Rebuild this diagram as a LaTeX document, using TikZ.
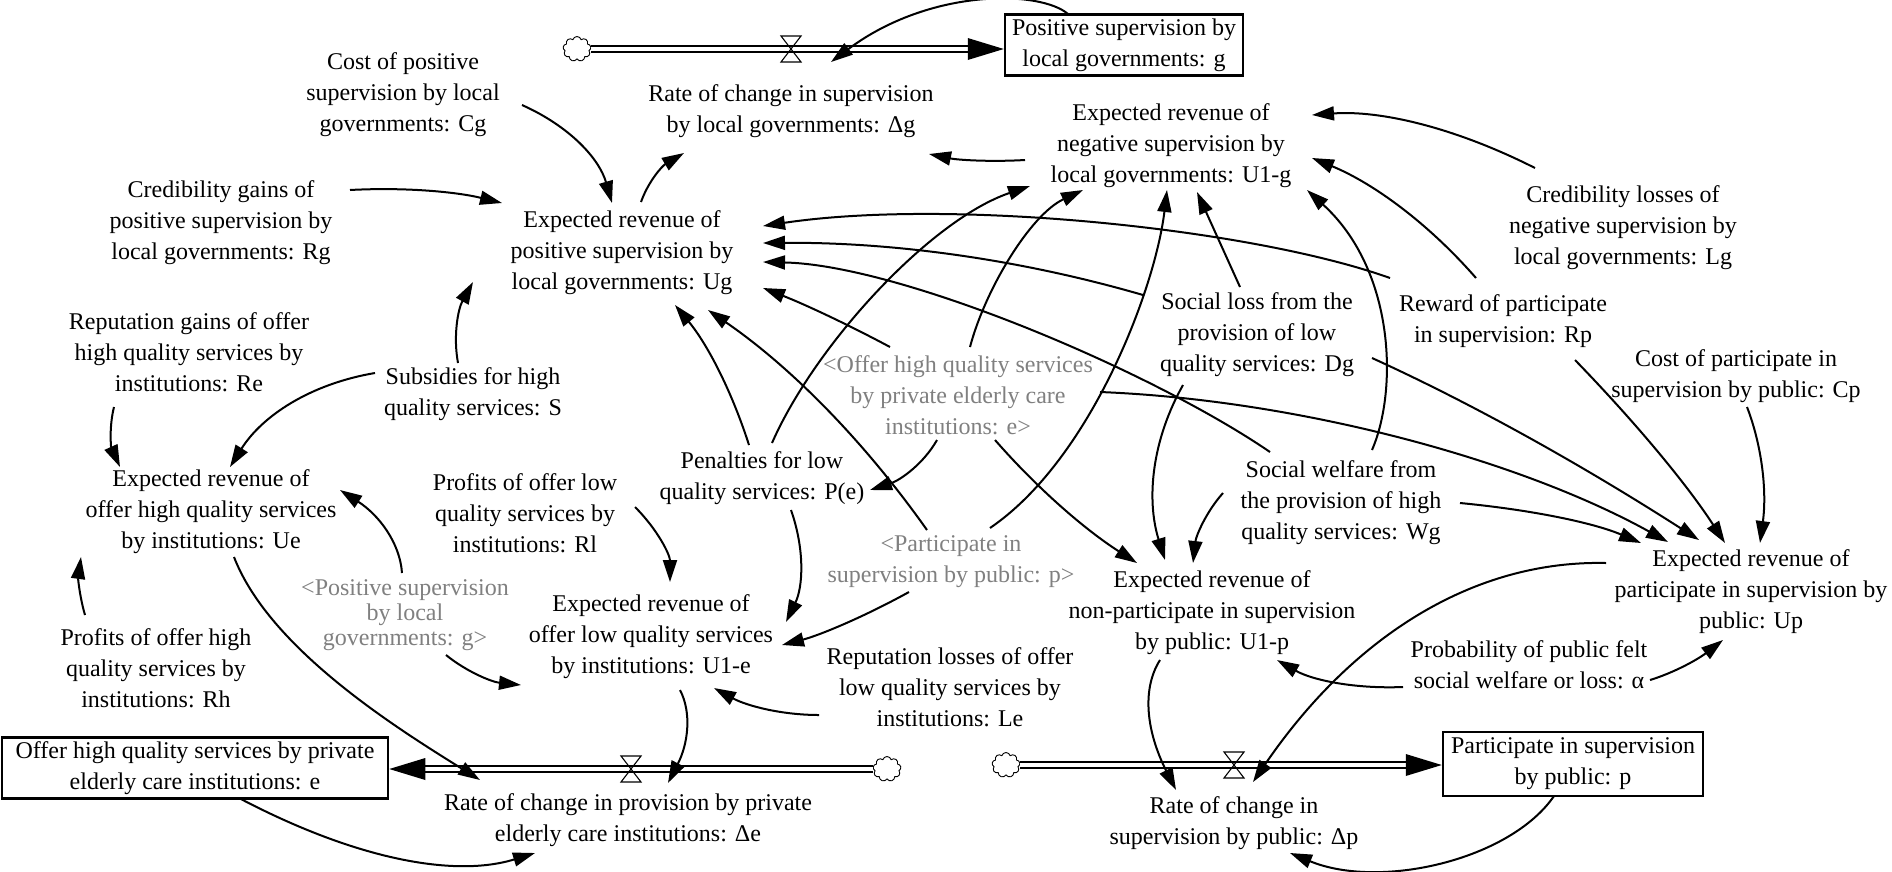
\documentclass[tikz,border=0pt]{standalone}
\usepackage{fontspec}
\setmainfont{Liberation Serif}
\usetikzlibrary{arrows.meta,shapes.symbols}
\definecolor{shadowgray}{RGB}{128,128,128}
\newcommand{\dfont}{\fontsize{24}{31}\selectfont}
\newcommand{\dfonttight}{\fontsize{24}{25}\selectfont}
\newcommand{\valvedraw}[1]{\draw[valvestyle] ([shift={(-10,-13)}]#1) -- ([shift={(10,-13)}]#1) -- ([shift={(-10,13)}]#1) -- ([shift={(10,13)}]#1) -- cycle;}
\begin{document}
\begin{tikzpicture}[x=1pt,y=-1pt,
  var/.style={align=center,inner sep=0pt,font=\dfont},
  shadowvar/.style={var,text=shadowgray},
  stockbox/.style={draw,line width=2.5pt,align=center,inner sep=0pt,font=\dfont},
  conn/.style={line width=2pt,-{Triangle[length=22pt,width=14pt]}},
  pipe/.style={double,line width=1.8pt,double distance=4pt},
  cloudsrc/.style={cloud,draw,cloud puffs=9,aspect=1.15,minimum width=28pt,minimum height=25pt,inner sep=0pt,line width=0.9pt},
  valvestyle/.style={line width=1.1pt}
]
\fill[white] (0,0) rectangle (1892,871);
\useasboundingbox (0,0) rectangle (1892,871);

% ---------- variables ----------
\node[var] (Cg) at (403,95) {Cost of positive\\supervision by local\\governments: Cg};
\node[var] (Rg) at (221,223) {Credibility gains of\\positive supervision by\\local governments: Rg};
\node[var] (Ug) at (622,253) {Expected revenue of\\positive supervision by\\local governments: Ug};
\node[var] (dg) at (791,111) {Rate of change in supervision\\by local governments: Δg};
\node[stockbox,minimum width=238pt,minimum height=61pt] (gbox) at (1124,45) {Positive supervision by\\local governments: g};
\node[var] (U1g) at (1171,146) {Expected revenue of\\negative supervision by\\local governments: U1-g};
\node[var] (Lg) at (1623,228) {Credibility losses of\\negative supervision by\\local governments: Lg};
\node[var] (Re) at (189,352) {Reputation gains of offer\\high quality services by\\institutions: Re};
\node[var] (S) at (473,394) {Subsidies for high\\quality services: S};
\node[var] (Dg) at (1257,335) {Social loss from the\\provision of low\\quality services: Dg};
\node[var] (Rp) at (1503,321) {Reward of participate\\in supervision: Rp};
\node[var] (Cp) at (1736,376) {Cost of participate in\\supervision by public: Cp};
\node[shadowvar] (es) at (958,395) {<Offer high quality services\\by private elderly care\\institutions: e>};
\node[var] (Ue) at (211,512) {Expected revenue of\\offer high quality services\\by institutions: Ue};
\node[var] (Rl) at (525,513) {Profits of offer low\\quality services by\\institutions: Rl};
\node[var] (Pe) at (762,478) {Penalties for low\\quality services: P(e)};
\node[var] (Wg) at (1341,503) {Social welfare from\\the provision of high\\quality services: Wg};
\node[shadowvar] (ps) at (951,562) {<Participate in\\supervision by public: p>};
\node[var] (U1p) at (1212,613) {Expected revenue of\\non-participate in supervision\\by public: U1-p};
\node[var] (Up) at (1751,592) {Expected revenue of\\participate in supervision by\\public: Up};
\node[var] (alpha) at (1529,665) {Probability of public felt\\social welfare or loss: α};
\node[shadowvar,font=\dfonttight] (gs) at (405,615) {<Positive supervision\\by local\\governments: g>};
\node[var] (Rh) at (156,668) {Profits of offer high\\quality services by\\institutions: Rh};
\node[var] (U1e) at (651,637) {Expected revenue of\\offer low quality services\\by institutions: U1-e};
\node[var] (Le) at (950,687) {Reputation losses of offer\\low quality services by\\institutions: Le};
\node[stockbox,minimum width=386pt,minimum height=61pt] (ebox) at (195,768) {Offer high quality services by private\\elderly care institutions: e};
\node[var] (de) at (628,820) {Rate of change in provision by private\\elderly care institutions: Δe};
\node[stockbox,minimum width=260pt,minimum height=64pt] (pbox) at (1573,764) {Participate in supervision\\by public: p};
\node[var] (dp) at (1234,823) {Rate of change in\\supervision by public: Δp};

% ---------- flows ----------
\node[cloudsrc] (c1) at (577,49) {};
\node[cloudsrc] (c2) at (887,769) {};
\node[cloudsrc] (c3) at (1006,765) {};
\coordinate (t1) at (c1.east -| gbox.west);
\coordinate (t2) at (c2.west -| ebox.east);
\coordinate (t3) at (c3.east -| pbox.west);
\draw[pipe] (c1.east) -- ([xshift=-34pt]t1);
\fill (t1) -- ++(-36,-11) -- ++(0,22) -- cycle;
\draw[pipe] (c2.west) -- ([xshift=34pt]t2);
\fill (t2) -- ++(36,-11) -- ++(0,22) -- cycle;
\draw[pipe] (c3.east) -- ([xshift=-34pt]t3);
\fill (t3) -- ++(-36,-11) -- ++(0,22) -- cycle;
\coordinate (v1) at (791,49);
\coordinate (v2) at (631,769);
\coordinate (v3) at (1234,765);
\valvedraw{v1}
\valvedraw{v2}
\valvedraw{v3}

% ---------- connectors ----------
\draw[conn] ([shift={(119,10)}]Cg.center) .. controls (569,126) and (599,158) .. ([shift={(-10,-50)}]Ug.center);
\draw[conn] ([shift={(129,-33)}]Rg.center) .. controls (406,187) and (457,192) .. ([shift={(-120,-50)}]Ug.center);
\draw[conn] ([shift={(19,-51)}]Ug.center) .. controls (648,182) and (662,166) .. ([shift={(-107,42)}]dg.center);
\draw[conn] ([shift={(-56,-31)}]gbox.center) .. controls (1040,-10) and (930,-12) .. ([shift={(40,-49)}]dg.center);
\draw[conn] ([shift={(-146,14)}]U1g.center) .. controls (990,162) and (958,160) .. ([shift={(138,43)}]dg.center);
\draw[conn] ([shift={(-88,-60)}]Lg.center) .. controls (1456,128) and (1381,110) .. ([shift={(141,-31)}]U1g.center);
\draw[conn] ([shift={(-27,-43)}]Rp.center) .. controls (1428,223) and (1373,183) .. ([shift={(141,12)}]U1g.center);
\draw[conn] ([shift={(31,-53)}]Wg.center) .. controls (1398,390) and (1395,270) .. ([shift={(136,44)}]U1g.center);
\draw[conn] ([shift={(-17,-48)}]Dg.center) -- ([shift={(26,46)}]U1g.center);
\draw[conn] ([shift={(10,-35)}]Pe.center) .. controls (815,345) and (930,220) .. ([shift={(-141,40)}]U1g.center);
\draw[conn] ([shift={(12,-48)}]es.center) .. controls (985,290) and (1030,215) .. ([shift={(-88,44)}]U1g.center);
\draw[conn] ([shift={(39,-34)}]ps.center) .. controls (1090,460) and (1155,290) .. ([shift={(-4,44)}]U1g.center);
\draw[conn] ([shift={(-113,-43)}]Rp.center) .. controls (1250,228) and (950,198) .. ([shift={(141,-27)}]Ug.center);
\draw[conn] ([shift={(-114,-40)}]Dg.center) .. controls (1019,259) and (892,242) .. ([shift={(141,-10)}]Ug.center);
\draw[conn] ([shift={(-71,-51)}]Wg.center) .. controls (1150,370) and (900,265) .. ([shift={(141,9)}]Ug.center);
\draw[conn] ([shift={(-68,-48)}]es.center) .. controls (847,324) and (804,304) .. ([shift={(141,35)}]Ug.center);
\draw[conn] ([shift={(-24,-32)}]ps.center) .. controls (864,441) and (791,367) .. ([shift={(86,57)}]Ug.center);
\draw[conn] ([shift={(-13,-33)}]Pe.center) .. controls (732,392) and (708,345) .. ([shift={(53,52)}]Ug.center);
\draw[conn] ([shift={(-15,-31)}]S.center) .. controls (453,336) and (458,309) .. ([shift={(-149,29)}]Ug.center);
\draw[conn] ([shift={(-75,55)}]Re.center) .. controls (109,427) and (111,447) .. ([shift={(-91,-45)}]Ue.center);
\draw[conn] ([shift={(-98,-21)}]S.center) .. controls (310,384) and (262,416) .. ([shift={(19,-45)}]Ue.center);
\draw[conn] ([shift={(-3,-42)}]gs.center) .. controls (400,543) and (379,515) .. ([shift={(129,-22)}]Ue.center);
\draw[conn] ([shift={(-71,-53)}]Rh.center) .. controls (80,598) and (78,579) .. ([shift={(-130,45)}]Ue.center);
\draw[conn] ([shift={(23,45)}]Ue.center) .. controls (270,650) and (400,730) .. ([shift={(-148,-40)}]de.center);
\draw[conn] ([shift={(110,-6)}]Rl.center) .. controls (658,530) and (670,555) .. ([shift={(19,-55)}]U1e.center);
\draw[conn] ([shift={(29,32)}]Pe.center) .. controls (805,550) and (803,587) .. ([shift={(135,-15)}]U1e.center);
\draw[conn] ([shift={(-42,30)}]ps.center) .. controls (860,619) and (817,636) .. ([shift={(131,8)}]U1e.center);
\draw[conn] ([shift={(41,40)}]gs.center) .. controls (467,672) and (492,682) .. ([shift={(-130,48)}]U1e.center);
\draw[conn] ([shift={(-131,28)}]Le.center) .. controls (782,715) and (747,706) .. ([shift={(63,51)}]U1e.center);
\draw[conn] ([shift={(29,53)}]U1e.center) .. controls (692,713) and (688,744) .. ([shift={(40,-37)}]de.center);
\draw[conn] ([shift={(44,30)}]ebox.center) .. controls (355,859) and (454,878) .. ([shift={(-93,33)}]de.center);
\draw[conn] ([shift={(-21,45)}]es.center) .. controls (924,463) and (901,480) .. ([shift={(108,12)}]Pe.center);
\draw[conn] ([shift={(37,45)}]es.center) .. controls (1037,488) and (1084,529) .. ([shift={(-75,-50)}]U1p.center);
\draw[conn] ([shift={(142,-3)}]es.center) .. controls (1300,400) and (1520,460) .. ([shift={(-83,-50)}]Up.center);
\draw[conn] ([shift={(-74,50)}]Dg.center) .. controls (1152,440) and (1146,499) .. ([shift={(-47,-53)}]U1p.center);
\draw[conn] ([shift={(-118,-10)}]Wg.center) .. controls (1206,512) and (1196,536) .. ([shift={(-19,-50)}]U1p.center);
\draw[conn] ([shift={(-126,22)}]alpha.center) .. controls (1354,689) and (1312,680) .. ([shift={(65,47)}]U1p.center);
\draw[conn] ([shift={(-52,47)}]U1p.center) .. controls (1141,690) and (1147,733) .. ([shift={(-58,-33)}]dp.center);
\draw[conn] ([shift={(-145,-29)}]Up.center) .. controls (1470,560) and (1350,640) .. ([shift={(19,-41)}]dp.center);
\draw[conn] ([shift={(-19,32)}]pbox.center) .. controls (1510,860) and (1380,890) .. ([shift={(56,30)}]dp.center);
\draw[conn] ([shift={(121,15)}]alpha.center) .. controls (1673,673) and (1697,660) .. ([shift={(-28,48)}]Up.center);
\draw[conn] ([shift={(11,31)}]Cp.center) .. controls (1762,446) and (1767,491) .. ([shift={(9,-49)}]Up.center);
\draw[conn] ([shift={(72,39)}]Rp.center) .. controls (1638,425) and (1688,486) .. ([shift={(-26,-49)}]Up.center);
\draw[conn] ([shift={(115,23)}]Dg.center) .. controls (1473,404) and (1582,465) .. ([shift={(-52,-52)}]Up.center);
\draw[conn] ([shift={(119,0)}]Wg.center) .. controls (1533,510) and (1594,523) .. ([shift={(-110,-49)}]Up.center);
\end{tikzpicture}
\end{document}
